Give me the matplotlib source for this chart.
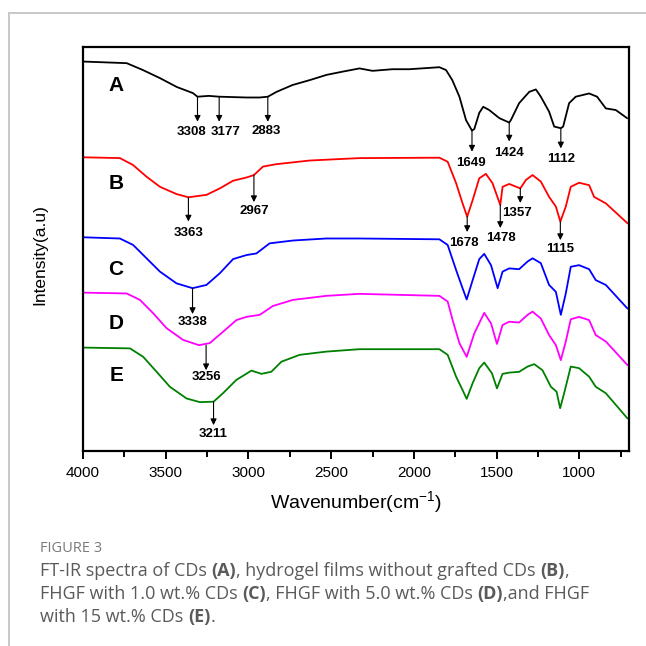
import numpy as np
import matplotlib
matplotlib.use("Agg")
import matplotlib.pyplot as plt
from matplotlib.ticker import MultipleLocator
from matplotlib.lines import Line2D

plt.rcParams['font.family'] = ['Liberation Sans', 'DejaVu Sans']
plt.rcParams['mathtext.fontset'] = 'custom'
plt.rcParams['mathtext.rm'] = 'Liberation Sans'

# ------------------------------------------------------------------
# spectra (wavenumber cm-1, intensity a.u., offset stacked)
wn_A = [4000, 3736, 3638, 3535, 3433, 3336, 3308, 3240, 3177, 3011, 2932, 2883, 2830,
        2733, 2630, 2528, 2431, 2329, 2250, 2130, 2027, 1846, 1806, 1768, 1725, 1685,
        1649, 1635, 1605, 1581, 1545, 1484, 1424, 1414, 1364, 1303, 1263, 1233, 1183,
        1152, 1112, 1098, 1062, 1022, 941, 893, 840, 780, 712]
in_A = [96.4, 96.0, 94.3, 92.3, 90.1, 88.6, 87.7, 87.9, 87.7, 87.5, 87.5, 87.7, 88.9,
        90.6, 91.8, 93.1, 93.9, 94.7, 94.1, 94.5, 94.5, 95.0, 94.3, 91.8, 87.7, 81.9,
        79.3, 79.7, 83.7, 85.2, 84.4, 82.4, 81.3, 81.9, 86.1, 88.9, 89.5, 87.7, 84.0,
        80.3, 79.9, 80.3, 86.1, 87.7, 88.5, 87.7, 84.8, 84.4, 82.4]

wn_B = [4000, 3777, 3698, 3616, 3535, 3435, 3363, 3254, 3173, 3093, 3012, 2967, 2912,
        2831, 2630, 2329, 1846, 1796, 1745, 1706, 1678, 1645, 1605, 1565, 1525, 1478,
        1464, 1424, 1357, 1323, 1283, 1233, 1183, 1142, 1115, 1082, 1052, 1002, 941,
        911, 840, 710]
in_B = [72.7, 72.5, 70.8, 67.9, 65.4, 63.6, 62.8, 63.4, 65.0, 66.9, 67.7, 68.3, 70.4,
        71.0, 71.9, 72.5, 72.6, 71.6, 66.3, 61.3, 58.0, 62.1, 67.5, 68.6, 66.3, 60.9,
        65.4, 66.1, 65.0, 67.1, 68.3, 66.7, 62.9, 60.5, 56.8, 60.5, 65.4, 66.4, 65.8,
        62.9, 61.3, 56.4]

wn_C = [4000, 3777, 3697, 3616, 3535, 3435, 3338, 3254, 3173, 3093, 3012, 2952, 2872,
        2731, 2530, 2329, 1846, 1796, 1745, 1706, 1681, 1645, 1605, 1575, 1534, 1494,
        1464, 1424, 1364, 1313, 1283, 1233, 1183, 1142, 1112, 1082, 1052, 1002, 941,
        901, 840, 710]
in_C = [52.9, 52.6, 51.0, 47.7, 44.4, 41.5, 40.3, 41.1, 44.0, 47.5, 48.5, 48.9, 51.4,
        52.1, 52.6, 52.6, 52.4, 51.0, 44.8, 40.3, 37.5, 42.3, 47.5, 48.8, 46.0, 40.3,
        44.4, 45.2, 45.0, 46.9, 47.7, 46.5, 41.1, 39.4, 33.7, 39.0, 45.6, 46.0, 45.0,
        42.3, 41.1, 35.3]

wn_D = [4000, 3736, 3656, 3576, 3495, 3395, 3300, 3234, 3154, 3073, 3012, 2932, 2852,
        2731, 2530, 2329, 1846, 1796, 1766, 1725, 1681, 1635, 1575, 1534, 1498, 1464,
        1424, 1364, 1313, 1283, 1233, 1183, 1142, 1112, 1082, 1052, 1002, 941, 901,
        840, 710]
in_D = [39.2, 39.0, 37.4, 34.1, 30.4, 27.5, 26.2, 26.7, 29.5, 32.4, 33.2, 33.7, 35.9,
        37.4, 38.4, 38.9, 38.4, 37.0, 32.4, 26.7, 23.3, 29.1, 34.2, 31.6, 26.5, 31.2,
        32.0, 31.8, 33.7, 34.5, 32.8, 28.7, 26.2, 22.5, 27.1, 32.6, 33.2, 32.4, 28.7,
        27.1, 21.3]

wn_E = [4000, 3716, 3636, 3555, 3475, 3374, 3294, 3211, 3154, 3073, 2982, 2922, 2862,
        2801, 2691, 2530, 2329, 1846, 1796, 1745, 1706, 1681, 1645, 1605, 1575, 1528,
        1498, 1464, 1424, 1364, 1313, 1273, 1223, 1172, 1138, 1116, 1092, 1052, 1002,
        941, 901, 840, 710]
in_E = [25.6, 25.4, 23.3, 19.6, 15.9, 13.0, 12.1, 12.2, 14.3, 17.6, 19.9, 19.1, 19.6,
        22.1, 23.8, 24.6, 25.2, 25.2, 23.8, 18.4, 15.1, 12.9, 16.8, 20.5, 21.9, 19.2,
        15.5, 19.1, 19.4, 19.6, 20.9, 21.5, 20.0, 15.9, 14.7, 10.6, 14.3, 20.9, 20.5,
        18.4, 15.9, 14.3, 8.1]

names = ['A', 'B', 'C', 'D', 'E']
colors = ['black', '#ff0000', '#0000ff', '#ff00ff', '#008000']
name_y = [90.4, 66.1, 45.0, 31.6, 18.8]

# peak marks: label, arrow start (on curve), arrow tip, label height, label wavenumber
pk_label = ['3308', '3177', '2883', '1649', '1424', '1112',
            '3363', '2967', '1678', '1478', '1357', '1115',
            '3338', '3256', '3211']
pk_top = [87.7, 87.7, 87.7, 79.3, 81.3, 79.9,
          62.8, 68.3, 58.0, 60.9, 65.0, 56.8,
          40.3, 26.2, 12.2]
pk_tip = [81.5, 81.5, 81.5, 74.1, 76.6, 74.9,
          56.8, 61.6, 54.2, 55.2, 61.4, 52.2,
          33.9, 20.0, 6.4]
pk_text = [79.0, 79.0, 79.2, 71.3, 73.8, 72.3,
           54.0, 59.5, 51.6, 52.6, 58.8, 50.0,
           31.9, 18.2, 4.3]
pk_text_wn = [3345, 3140, 2890, 1655, 1424, 1112,
              3363, 2967, 1700, 1474, 1375, 1115,
              3338, 3256, 3211]

spectra = [(wn_A, in_A), (wn_B, in_B), (wn_C, in_C), (wn_D, in_D), (wn_E, in_E)]

# ------------------------------------------------------------------
W = 646
fig = plt.figure(figsize=(6.46, 6.46), dpi=100)
ax = fig.add_axes([83 / W, 1 - 451 / W, 546 / W, 404 / W])

for (x, y), c in zip(spectra, colors):
    ax.plot(x, y, color=c, lw=1.3)

for n, yy in zip(names, name_y):
    ax.text(3800, yy, n, ha='center', va='center', fontsize=15, fontweight='bold')

for lab, top, tip, ty, tx in zip(pk_label, pk_top, pk_tip, pk_text, pk_text_wn):
    w = float(lab)
    ax.annotate('', xy=(w, tip), xytext=(w, top),
                arrowprops=dict(arrowstyle='-|>', color='black', lw=0.8,
                                mutation_scale=9, shrinkA=0, shrinkB=0))
    ax.text(tx, ty, lab, ha='center', va='center', fontsize=9.5, fontweight='bold')

ax.set_xlim(4000, 700)
ax.set_ylim(0, 100)
ax.xaxis.set_major_locator(MultipleLocator(500))
ax.xaxis.set_minor_locator(MultipleLocator(250))
ax.set_yticks([])
ax.tick_params(axis='x', which='major', direction='out', length=6, width=1.4,
               labelsize=11, pad=5)
ax.tick_params(axis='x', which='minor', direction='out', length=4, width=1.4)
for s in ax.spines.values():
    s.set_linewidth(1.6)

fig.text(356 / W, 1 - 503 / W, r'Wavenumber(cm$^{\mathregular{-1}}$)',
         ha='center', va='center', fontsize=14)
fig.text(40 / W, 1 - 255 / W, 'Intensity(a.u)', rotation=90,
         ha='center', va='center', fontsize=12.5)

# frame lines of the page
fig.add_artist(Line2D([9 / W, 1], [1 - 13 / W, 1 - 13 / W], transform=fig.transFigure,
                      color='#c8c8c8', lw=1.4))
fig.add_artist(Line2D([9 / W, 9 / W], [0, 1 - 13 / W], transform=fig.transFigure,
                      color='#c8c8c8', lw=1.4))

# caption
cap_font = ['Open Sans', 'DejaVu Sans']
fig.text(40 / W, 1 - 549 / W, 'FIGURE 3', ha='left', va='center', fontsize=10.5,
         color='#7a7a7a', family=cap_font)

cap_lines = [
    [('FT-IR spectra of CDs ', 0), ('(A)', 1), (', hydrogel films without grafted CDs ', 0),
     ('(B)', 1), (',', 0)],
    [('FHGF with 1.0 wt.% CDs ', 0), ('(C)', 1), (', FHGF with 5.0 wt.% CDs ', 0),
     ('(D)', 1), (',and FHGF', 0)],
    [('with 15 wt.% CDs ', 0), ('(E)', 1), ('.', 0)],
]
cap_y = [571, 594, 617]

renderer = fig.canvas.get_renderer()
for segs, yy in zip(cap_lines, cap_y):
    x0 = 40 / W
    for txt, bold in segs:
        t = fig.text(x0, 1 - yy / W, txt, ha='left', va='center', fontsize=13,
                     color='#5a5a5a', family=cap_font,
                     fontweight='bold' if bold else 'normal')
        bb = t.get_window_extent(renderer)
        x0 += bb.width / fig.bbox.width

fig.savefig('out.png', dpi=100)
